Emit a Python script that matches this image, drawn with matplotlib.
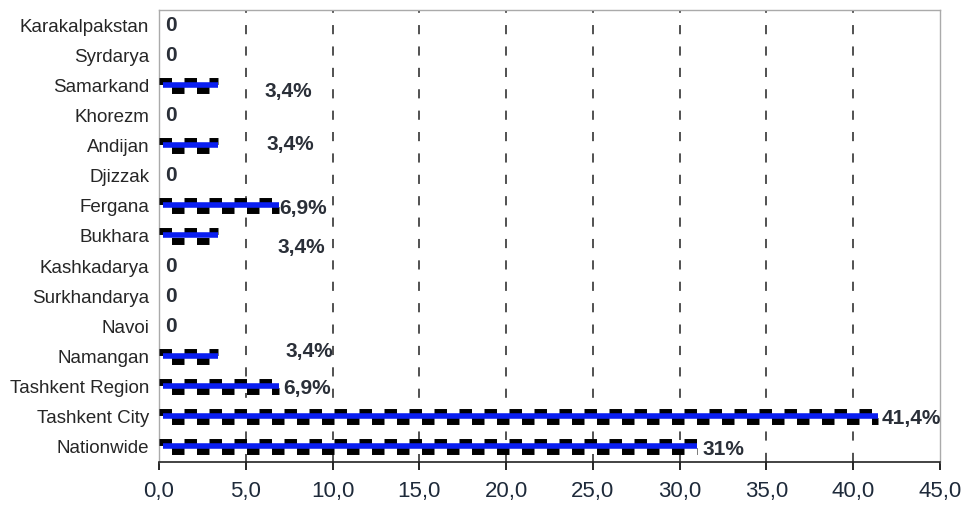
import matplotlib
matplotlib.use("Agg")
import matplotlib.pyplot as plt

plt.rcParams['font.family'] = ['Liberation Sans', 'DejaVu Sans']

regions = ["Karakalpakstan", "Syrdarya", "Samarkand", "Khorezm", "Andijan",
           "Djizzak", "Fergana", "Bukhara", "Kashkadarya", "Surkhandarya",
           "Navoi", "Namangan", "Tashkent Region", "Tashkent City", "Nationwide"]
values = [0, 0, 3.4, 0, 3.4, 0, 6.9, 3.4, 0, 0, 0, 3.4, 6.9, 41.4, 31]
labels = ["0", "0", "3,4%", "0", "3,4%", "0", "6,9%", "3,4%", "0", "0", "0",
          "3,4%", "6,9%", "41,4%", "31%"]
# label placement (x offset in data units, downward y offset in rows)
label_dx = [0.35, 0.35, 2.7, 0.35, 2.8, 0.35, 0.05, 3.4, 0.35, 0.35, 0.35, 3.9, 0.25, 0.25, 0.3]
label_dy = [0, 0, 0.2, 0, -0.03, 0, 0.1, 0.37, 0, 0, 0, -0.17, 0.07, 0.07, 0.07]
ticks = [0, 5, 10, 15, 20, 25, 30, 35, 40, 45]
tick_labels = ["0,0", "5,0", "10,0", "15,0", "20,0", "25,0", "30,0", "35,0", "40,0", "45,0"]

fig = plt.figure(figsize=(9.67, 5.05), dpi=100)
ax = fig.add_axes([159 / 967, 1 - 462 / 505, (940 - 159) / 967, (462 - 10) / 505])

n = len(regions)
ypos = list(range(n - 1, -1, -1))

for v, y in zip(values, ypos):
    if v <= 0:
        continue
    ax.barh(y, v, height=0.45, color="white", edgecolor="none", zorder=2)
    ax.hlines(y + 0.15, 0, v, colors="black", linewidth=5,
              linestyles=(0, (1.8, 1.8)), zorder=3)
    ax.hlines(y - 0.15, 0, v, colors="black", linewidth=5,
              linestyles=(1.8, (1.8, 1.8)), zorder=3)
    ax.hlines(y + 0.02, 0.25, v, colors="#0a1ef0", linewidth=4, zorder=4)

for v, y, lab, dx, dy in zip(values, ypos, labels, label_dx, label_dy):
    ax.text(v + dx, y - dy, lab, ha="left", va="center", fontsize=15,
            fontweight="bold", color="#2a2f38", zorder=5)

ax.set_xlim(0, 45)
ax.set_ylim(-0.5, n - 0.5)
ax.set_yticks(ypos)
ax.set_yticklabels(regions, fontsize=13.5, color="#262626")
ax.tick_params(axis="y", length=0, pad=7)
ax.set_xticks(ticks)
ax.set_xticklabels(tick_labels, fontsize=16, color="#1e2a3a")
ax.tick_params(axis="x", length=6, width=1.2, direction="out", pad=8)

for t in ticks[1:-1]:
    ax.axvline(t, color="#222222", linewidth=1.1, linestyle=(0, (6, 8)), zorder=1)

for side in ["top", "right", "left"]:
    ax.spines[side].set_color("#aaaaaa")
    ax.spines[side].set_linewidth(1.0)
ax.spines["bottom"].set_color("#222222")
ax.spines["bottom"].set_linewidth(1.2)

fig.savefig("out.png", dpi=100, facecolor="white")
